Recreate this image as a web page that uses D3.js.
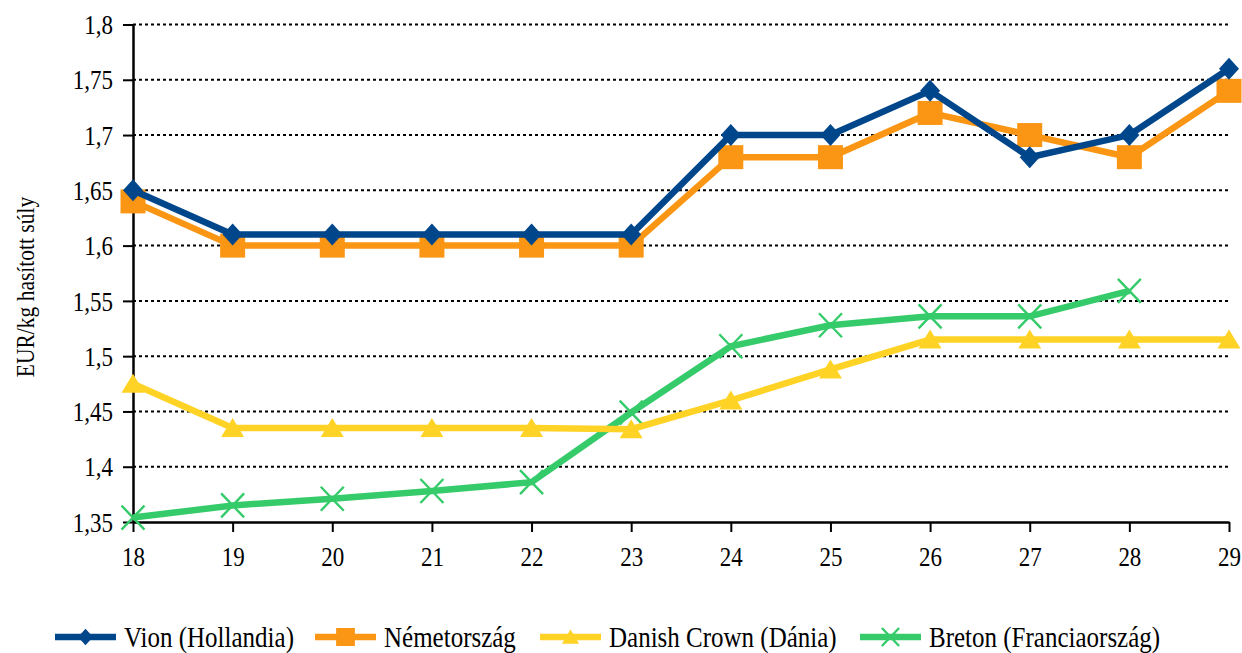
<!DOCTYPE html>
<html><head><meta charset="utf-8">
<script src="https://cdn.jsdelivr.net/npm/d3@7"></script>
<style>body{margin:0;background:#fff}svg{display:block}</style>
</head><body><svg id="c" width="1242" height="653"></svg>
<script>
const weeks = [18,19,20,21,22,23,24,25,26,27,28,29];
const vion = [1.65,1.61,1.61,1.61,1.61,1.61,1.70,1.70,1.74,1.68,1.70,1.76];
const nemet = [1.64,1.60,1.60,1.60,1.60,1.60,1.68,1.68,1.72,1.70,1.68,1.74];
const danish = [1.475,1.435,1.435,1.435,1.435,1.434,1.460,1.488,1.515,1.515,1.515,1.515];
const breton = [1.354,1.365,1.371,1.378,1.386,1.449,1.509,1.528,1.536,1.536,1.559,null];
const yTicks = [1.35,1.4,1.45,1.5,1.55,1.6,1.65,1.7,1.75,1.8];
const seriesNames = ["Vion (Hollandia)","Németország","Danish Crown (Dánia)","Breton (Franciaország)"];
const colors = ["#00468B","#FA9614","#FFD326","#36CB6A"];
const symbols = ["diamond","square","triangle","x"];

const FF = '"Liberation Serif","DejaVu Serif","Times New Roman",serif';
const SY = 1.2; // vertical stretch of the reference's glyphs
const svg = d3.select("#c");
const L=133, R=1229, T=24.5, B=522;
const x = d3.scaleLinear().domain([18,29]).range([L,R]);
const y = d3.scaleLinear().domain([1.35,1.8]).range([B,T]);
const fmt = d => String(d).replace(".",",");

// grid
svg.append("g").selectAll("line").data(yTicks.filter(d=>d>1.35)).join("line")
  .attr("x1",L).attr("x2",R).attr("y1",d=>y(d)).attr("y2",d=>y(d))
  .attr("stroke","#000").attr("stroke-width",2).attr("stroke-dasharray","3,3");

const ya = svg.append("g").attr("transform",`translate(${L},0)`)
  .call(d3.axisLeft(y).tickValues(yTicks).tickFormat(fmt).tickSize(10).tickSizeOuter(0));
ya.attr("font-family",FF).attr("font-size",23);
ya.select(".domain").attr("stroke-width",2.5);
ya.selectAll(".tick line").attr("stroke-width",2);
ya.selectAll("text").attr("x",-20).attr("y",0).attr("dy","0.33em").attr("fill","#000")
  .attr("transform",`scale(1,${SY})`);

const xa = svg.append("g").attr("transform",`translate(0,${B})`)
  .call(d3.axisBottom(x).tickValues(weeks).tickFormat(d3.format("d")).tickSize(10).tickSizeOuter(0));
xa.attr("font-family",FF).attr("font-size",23);
xa.select(".domain").attr("stroke-width",2.5);
xa.selectAll(".tick line").attr("stroke-width",2);
xa.selectAll("text").attr("y",44/SY).attr("dy",0).attr("fill","#000")
  .attr("transform",`scale(1,${SY})`);

svg.append("text").attr("transform",`translate(34,287) rotate(-90) scale(1,${SY})`).attr("text-anchor","middle")
  .attr("font-family",FF).attr("font-size",21.5).text("EUR/kg hasított súly");

const all = [vion,nemet,danish,breton];
function marker(g, type, color, cx, cy, k){
  if(type==="diamond"){
    g.append("path").attr("d",`M${cx},${cy-11*k}L${cx+10*k},${cy}L${cx},${cy+11*k}L${cx-10*k},${cy}Z`).attr("fill",color);
  } else if(type==="square"){
    g.append("rect").attr("x",cx-12.5*k).attr("y",cy-12*k).attr("width",25*k).attr("height",24*k).attr("fill",color);
  } else if(type==="triangle"){
    g.append("path").attr("d",`M${cx},${cy-10*k}L${cx+11.5*k},${cy+9*k}L${cx-11.5*k},${cy+9*k}Z`).attr("fill",color);
  } else {
    g.append("path").attr("d",`M${cx-11.5*k},${cy-12*k}L${cx+11.5*k},${cy+12*k}M${cx+11.5*k},${cy-12*k}L${cx-11.5*k},${cy+12*k}`)
      .attr("stroke",color).attr("stroke-width",2.4).attr("fill","none");
  }
}
const order=[3,2,1,0];
order.forEach(i=>{
  const data = weeks.map((w,j)=>({w,v:all[i][j]})).filter(d=>d.v!=null);
  const g = svg.append("g");
  g.append("path").datum(data).attr("fill","none").attr("stroke",colors[i]).attr("stroke-width",6.5)
    .attr("stroke-linejoin","miter")
    .attr("d",d3.line().x(d=>x(d.w)).y(d=>y(d.v)));
  data.forEach(d=>marker(g,symbols[i],colors[i],x(d.w),y(d.v),1));
});

// legend
const legX = [55,315,540,860];
const lg = svg.append("g");
seriesNames.forEach((n,i)=>{
  const g = lg.append("g");
  g.append("line").attr("x1",legX[i]).attr("x2",legX[i]+61).attr("y1",637).attr("y2",637)
    .attr("stroke",colors[i]).attr("stroke-width",6.5);
  marker(g,symbols[i],colors[i],legX[i]+30.5,637,0.75);
  g.append("text").attr("transform",`translate(${legX[i]+69},647) scale(1,${SY})`)
    .attr("font-family",FF).attr("font-size",25).text(n);
});
</script></body></html>
